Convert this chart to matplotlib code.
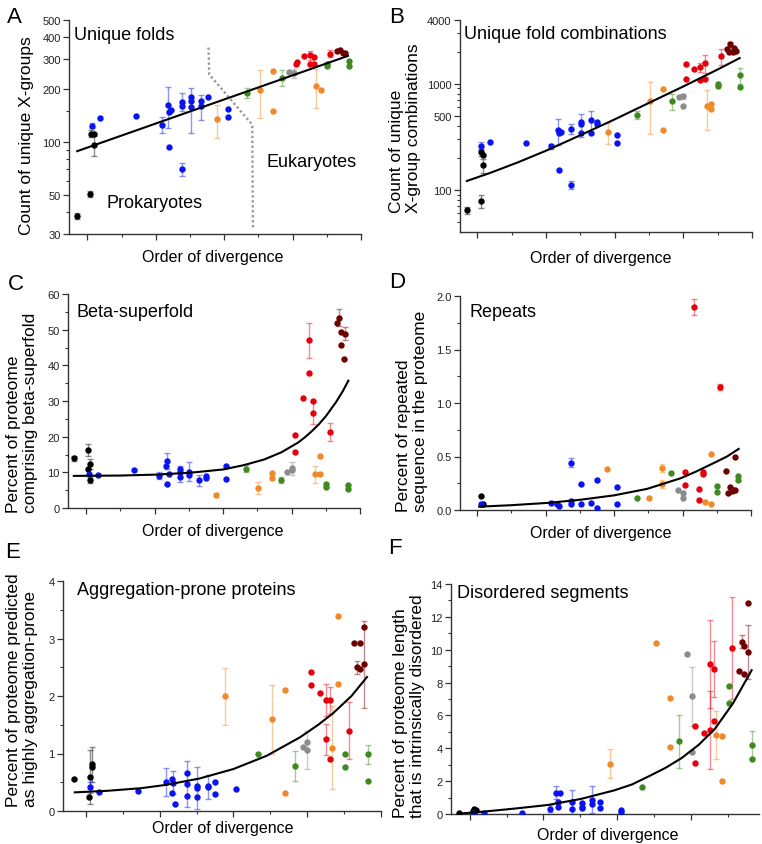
import matplotlib
matplotlib.use("Agg")
import matplotlib.pyplot as plt
from matplotlib.ticker import FixedLocator, MultipleLocator, NullFormatter, FormatStrFormatter
import numpy as np

# figure size in pixels
W, H = 762, 845

plt.rcParams["font.family"] = ["Liberation Sans", "DejaVu Sans"]

COLORS = {
    "k": "#000000",   # archaea / early
    "b": "#0a14f2",   # bacteria
    "o": "#ee8a2a",   # protists
    "g": "#3f8a1f",   # plants
    "s": "#8c8c8c",   # fungi
    "r": "#e6000e",   # invertebrates
    "m": "#6e0000",   # vertebrates
}

# ---- data: (order of divergence, value, error) ----
# A: unique folds
A_black = [(0.85, 38, 1.5), (1.04, 51, 2), (1.05, 112, 5), (1.09, 111, 0), (1.09, 96, 12)]
A_blue = [(1.06, 124, 4), (1.19, 137, 0), (1.71, 142, 0), (2.09, 126, 13), (2.18, 163, 43),
          (2.19, 148, 0), (2.22, 152, 0), (2.19, 94, 0), (2.38, 170, 20), (2.38, 161, 0),
          (2.38, 70, 6), (2.52, 181, 0), (2.52, 173, 0), (2.52, 158, 45), (2.66, 172, 0),
          (2.66, 160, 26), (2.76, 181, 0), (3.05, 155, 0), (3.05, 139, 0)]
A_orange = [(2.90, 135, 29), (3.52, 199, 61), (3.71, 256, 0), (3.72, 151, 0), (4.34, 209, 52), (4.42, 198, 0)]
A_green = [(3.34, 192, 13), (3.84, 234, 25), (4.50, 278, 0), (4.50, 272, 0), (4.82, 289, 0), (4.82, 272, 0)]
A_gray = [(3.94, 252, 0), (4.02, 247, 15)]
A_red = [(4.05, 278, 0), (4.06, 287, 0), (4.17, 311, 0), (4.25, 313, 17), (4.31, 305, 0),
         (4.25, 279, 0), (4.31, 278, 0), (4.55, 320, 15)]
A_maroon = [(4.65, 333, 0), (4.69, 338, 0), (4.74, 322, 0), (4.77, 321, 0)]
A_fit_x = [0.85, 4.81]
A_fit_y = [89, 311]
A_divider_x = [2.77, 2.78, 3.41, 3.42]
A_divider_y = [347, 244, 126, 31.7]

# B: unique fold combinations
B_black = [(0.85, 64, 5), (1.05, 79, 11), (1.06, 225, 15), (1.09, 213, 0), (1.09, 171, 26)]
B_blue = [(1.06, 259, 20), (1.19, 284, 0), (1.71, 274, 0), (2.08, 257, 15), (2.17, 363, 100),
          (2.19, 345, 0), (2.22, 350, 0), (2.19, 154, 0), (2.37, 376, 40), (2.37, 111, 10),
          (2.51, 431, 0), (2.51, 415, 100), (2.51, 340, 0), (2.66, 450, 105), (2.66, 340, 0),
          (2.75, 437, 0), (2.75, 415, 0), (3.04, 328, 0), (3.04, 274, 0)]
B_orange = [(2.90, 350, 80), (3.52, 688, 350), (3.70, 885, 0), (3.70, 368, 0), (4.34, 617, 255),
            (4.41, 640, 0), (4.41, 571, 0)]
B_green = [(3.33, 505, 45), (3.83, 684, 120), (4.50, 986, 0), (4.50, 950, 0), (4.82, 1197, 200), (4.82, 930, 0)]
B_gray = [(3.94, 745, 0), (4.00, 760, 40), (4.00, 613, 0)]
B_red = [(4.04, 1518, 0), (4.04, 1114, 0), (4.16, 1362, 0), (4.25, 1423, 150), (4.31, 1550, 300),
         (4.25, 1075, 0), (4.31, 1098, 0), (4.55, 1804, 300)]
B_maroon = [(4.64, 2113, 0), (4.68, 2355, 120), (4.74, 2160, 0), (4.73, 1967, 0), (4.67, 1980, 0), (4.76, 2037, 0)]
B_fit_x = [0.85, 1.2, 1.6, 2.0, 2.5, 3.0, 3.5, 4.0, 4.5, 4.82]
B_fit_y = [121, 145, 182, 233, 326, 460, 658, 940, 1358, 1740]

# C: beta-superfold
C_black = [(0.82, 13.9, 0.8), (1.03, 16.3, 1.7), (1.03, 10.9, 0), (1.06, 12.3, 1.4), (1.06, 7.8, 0.8)]
C_blue = [(1.04, 9.6, 0), (1.17, 9.3, 0), (1.70, 10.7, 0), (2.07, 9.1, 1.0), (2.16, 11.8, 0),
          (2.18, 13.2, 2.3), (2.18, 6.6, 0), (2.21, 9.6, 0), (2.37, 10.9, 1.0), (2.37, 10.1, 0),
          (2.37, 8.7, 1.5), (2.50, 10.2, 2.6), (2.50, 9.3, 0), (2.65, 7.8, 1.5), (2.75, 9.0, 0),
          (2.75, 8.5, 0), (3.04, 11.8, 0), (3.04, 8.2, 0)]
C_orange = [(2.89, 3.7, 0.6), (3.51, 5.7, 1.7), (3.71, 9.9, 0), (3.71, 8.4, 0), (4.34, 9.5, 2.4),
            (4.42, 14.6, 0), (4.42, 9.6, 0)]
C_green = [(3.34, 11.0, 1.0), (3.84, 7.9, 0.9), (4.51, 6.6, 0), (4.51, 6.0, 0), (4.83, 6.5, 0), (4.83, 5.3, 0)]
C_gray = [(3.94, 10.2, 0), (4.01, 10.7, 0), (4.01, 11.1, 1.9)]
C_red = [(4.05, 20.4, 0), (4.05, 15.6, 0), (4.17, 30.9, 0), (4.26, 47.0, 5.0), (4.26, 37.9, 0),
         (4.31, 30.1, 0), (4.31, 26.6, 3.0), (4.56, 21.3, 2.5)]
C_maroon = [(4.66, 51.9, 0), (4.70, 53.4, 2.3), (4.72, 49.4, 0), (4.78, 48.9, 1.8), (4.72, 45.7, 0), (4.77, 41.9, 0)]
C_fit_x = [0.82, 1.5, 2.0, 2.5, 3.0, 3.3, 3.6, 3.85, 4.1, 4.2, 4.3, 4.4, 4.5, 4.65, 4.75, 4.83]
C_fit_y = [9.0, 9.1, 9.35, 9.85, 10.8, 12.0, 13.6, 15.6, 18.4, 19.9, 21.6, 23.5, 25.7, 29.7, 32.8, 35.7]

# D: repeats
D_black = [(1.05, 0.128, 0), (1.09, 0.053, 0)]
D_blue = [(1.05, 0.059, 0), (2.08, 0.062, 0), (2.17, 0.053, 0), (2.19, 0.037, 0), (2.37, 0.443, 0.045),
          (2.37, 0.087, 0), (2.37, 0.053, 0), (2.51, 0.246, 0), (2.51, 0.056, 0), (2.66, 0.069, 0),
          (2.75, 0.278, 0), (2.75, 0.022, 0), (3.04, 0.212, 0), (3.04, 0.056, 0)]
D_orange = [(2.89, 0.381, 0), (3.51, 0.112, 0), (3.70, 0.393, 0.035), (3.70, 0.243, 0.04),
            (4.33, 0.072, 0), (4.41, 0.524, 0), (4.41, 0.059, 0)]
D_green = [(3.33, 0.109, 0), (3.83, 0.346, 0), (4.50, 0.22, 0), (4.50, 0.17, 0), (4.81, 0.315, 0), (4.81, 0.278, 0)]
D_gray = [(3.94, 0.19, 0), (4.00, 0.162, 0), (4.00, 0.112, 0)]
D_red = [(4.04, 0.353, 0), (4.04, 0.237, 0), (4.17, 1.90, 0.075), (4.24, 0.20, 0), (4.24, 0.09, 0),
         (4.30, 0.359, 0), (4.30, 0.34, 0), (4.54, 1.151, 0.03)]
D_maroon = [(4.64, 0.365, 0), (4.76, 0.496, 0), (4.67, 0.156, 0), (4.70, 0.212, 0), (4.73, 0.19, 0),
            (4.76, 0.19, 0), (4.72, 0.175, 0)]
D_fit_x = [1.03, 1.5, 2.02, 2.5, 3.0, 3.48, 3.97, 4.2, 4.45, 4.65, 4.82]
D_fit_y = [0.031, 0.045, 0.066, 0.095, 0.137, 0.197, 0.296, 0.36, 0.437, 0.50, 0.571]

# E: aggregation-prone proteins
E_black = [(0.84, 0.555, 0), (1.05, 0.584, 0.47), (1.04, 0.249, 0), (1.08, 0.81, 0.3), (1.08, 0.757, 0)]
E_blue = [(1.05, 0.41, 0.1), (1.18, 0.324, 0), (1.71, 0.353, 0), (2.08, 0.509, 0.24), (2.17, 0.561, 0),
          (2.18, 0.491, 0.2), (2.17, 0.312, 0), (2.21, 0.127, 0), (2.37, 0.659, 0), (2.37, 0.468, 0.4),
          (2.37, 0.254, 0), (2.51, 0.439, 0), (2.51, 0.399, 0.37), (2.51, 0.237, 0), (2.65, 0.439, 0),
          (2.65, 0.416, 0.21), (2.75, 0.503, 0), (2.75, 0.30, 0), (3.04, 0.376, 0)]
E_orange = [(2.89, 1.994, 0.5), (3.52, 1.595, 0.6), (3.70, 2.104, 0), (3.70, 0.306, 0), (4.33, 1.104, 0.73),
            (4.42, 3.399, 0), (4.42, 2.208, 0)]
E_green = [(3.33, 0.994, 0), (3.83, 0.786, 0.26), (4.51, 0.983, 0), (4.51, 0.763, 0), (4.82, 0.983, 0.16), (4.82, 0.526, 0)]
E_gray = [(3.94, 1.121, 0), (4.00, 1.202, 0), (4.00, 1.069, 0.33)]
E_red = [(4.05, 2.416, 0), (4.05, 2.185, 0), (4.17, 2.052, 0), (4.25, 1.936, 0.28), (4.31, 1.925, 0.24),
         (4.25, 1.249, 0.27), (4.31, 0.913, 0), (4.56, 1.399, 0.49)]
E_maroon = [(4.64, 2.93, 0), (4.71, 2.93, 0), (4.77, 3.197, 0), (4.68, 2.497, 0.12), (4.71, 2.47, 0), (4.77, 2.55, 0.76)]
E_fit_x = [0.85, 1.3, 1.75, 2.09, 2.54, 3.0, 3.45, 3.9, 4.15, 4.35, 4.6, 4.81]
E_fit_y = [0.324, 0.352, 0.397, 0.455, 0.565, 0.73, 0.96, 1.28, 1.50, 1.70, 2.0, 2.33]

# F: disordered segments
F_black = [(0.85, 0.04, 0), (1.06, 0.33, 0), (1.08, 0.25, 0), (1.04, 0.2, 0)]
F_blue = [(1.06, 0.04, 0), (1.19, 0.08, 0), (1.71, 0.08, 0), (2.09, 0.33, 0.2), (2.17, 1.30, 0.4),
          (2.22, 1.30, 0), (2.19, 0.73, 0), (2.19, 0.45, 0), (2.38, 0.71, 0.75), (2.38, 0.31, 0),
          (2.52, 0.69, 0), (2.52, 0.45, 0), (2.52, 0.35, 0), (2.66, 0.88, 0.8), (2.66, 0.63, 0),
          (2.76, 0.71, 0), (2.76, 0.37, 0), (3.05, 0.26, 0), (3.05, 0.12, 0)]
F_orange = [(2.90, 3.07, 0.9), (3.52, 10.42, 0), (3.71, 7.08, 0), (3.71, 4.05, 0), (4.34, 4.82, 1.45),
            (4.42, 4.76, 0), (4.42, 2.03, 0)]
F_green = [(3.34, 1.67, 0), (3.84, 4.42, 1.6), (4.51, 7.81, 0), (4.51, 6.76, 0), (4.82, 4.23, 0.85), (4.82, 3.34, 0)]
F_gray = [(3.94, 9.73, 0), (4.01, 7.16, 1.8), (4.01, 3.76, 0)]
F_red = [(4.05, 5.37, 0), (4.05, 3.09, 0), (4.18, 4.92, 0), (4.26, 9.14, 2.67), (4.31, 8.83, 1.7),
         (4.26, 5.11, 2.4), (4.31, 5.64, 0), (4.56, 10.09, 3.1)]
F_maroon = [(4.65, 8.69, 0), (4.69, 10.50, 0.4), (4.72, 10.22, 0), (4.72, 8.51, 0), (4.77, 9.85, 1.65), (4.77, 12.82, 0)]
F_fit_x = [0.85, 1.2, 1.61, 2.06, 2.51, 2.96, 3.2, 3.42, 3.65, 3.87, 4.1, 4.32, 4.57, 4.82]
F_fit_y = [0.02, 0.15, 0.33, 0.55, 0.92, 1.44, 1.80, 2.28, 2.80, 3.40, 4.20, 5.17, 6.75, 8.75]


def add_axes(fig, left, top, right, bottom):
    # pixel box -> figure fraction
    return fig.add_axes([left / W, 1 - bottom / H, (right - left) / W, (bottom - top) / H])


def fig_text(fig, x, y, s, **kw):
    fig.text(x / W, 1 - y / H, s, **kw)


def style_axes(ax, xlim):
    for side in ("top", "right"):
        ax.spines[side].set_visible(False)
    for side in ("left", "bottom"):
        ax.spines[side].set_linewidth(1.0)
        ax.spines[side].set_color("#333333")
    ax.set_xlim(*xlim)
    ax.xaxis.set_major_locator(FixedLocator([1, 2, 3, 4, 5]))
    ax.xaxis.set_minor_locator(FixedLocator([1.5, 2.5, 3.5, 4.5]))
    ax.xaxis.set_major_formatter(NullFormatter())
    ax.tick_params(which="major", direction="out", length=4, width=0.9, labelsize=8,
                   colors="#333333", labelcolor="#222222", pad=2)
    ax.tick_params(which="minor", direction="out", length=2.5, width=0.8, colors="#333333")


def draw_points(ax, groups):
    for key, pts in groups:
        x, y, e = np.array(pts, dtype=float).T
        has = e > 0
        if has.any():
            ax.errorbar(x[has], y[has], yerr=e[has], fmt="none", ecolor=COLORS[key], alpha=0.45,
                        elinewidth=1.0, capsize=2, capthick=1.0, zorder=2)
        ax.plot(x, y, "o", color=COLORS[key], ms=4.6, mew=0, zorder=3)


def draw_fit(ax, fx, fy):
    ax.plot(fx, fy, color="black", lw=1.5, zorder=4, solid_joinstyle="round")


def main():
    fig = plt.figure(figsize=(W / 100, H / 100), dpi=100)

    # ---- A ----
    ax = add_axes(fig, 69, 20.7, 361, 235)
    ax.set_yscale("log")
    draw_points(ax, [("k", A_black), ("b", A_blue), ("o", A_orange), ("g", A_green),
                     ("s", A_gray), ("r", A_red), ("m", A_maroon)])
    draw_fit(ax, A_fit_x, A_fit_y)
    ax.plot(A_divider_x, A_divider_y, color="#9a9a9a", lw=1.7, linestyle=(0, (1, 1.1)), zorder=1)
    style_axes(ax, (0.73, 5.0))
    ax.set_ylim(30, 500)
    ax.yaxis.set_major_locator(FixedLocator([30, 50, 100, 200, 300, 400, 500]))
    ax.yaxis.set_minor_locator(FixedLocator([40, 60, 70, 80, 90, 150]))
    ax.set_yticklabels(["30", "50", "100", "200", "300", "400", "500"])
    ax.yaxis.set_minor_formatter(NullFormatter())
    fig_text(fig, 107, 208, "Prokaryotes", fontsize=13)
    fig_text(fig, 266, 167, "Eukaryotes", fontsize=13)

    # ---- B ----
    ax = add_axes(fig, 460, 20.7, 752, 233)
    ax.set_yscale("log")
    draw_points(ax, [("k", B_black), ("b", B_blue), ("o", B_orange), ("g", B_green),
                     ("s", B_gray), ("r", B_red), ("m", B_maroon)])
    draw_fit(ax, B_fit_x, B_fit_y)
    style_axes(ax, (0.75, 5.0))
    ax.set_ylim(40, 4000)
    ax.yaxis.set_major_locator(FixedLocator([100, 500, 1000, 4000]))
    ax.yaxis.set_minor_locator(FixedLocator([50, 60, 70, 80, 90, 200, 300, 400, 600, 700,
                                             800, 900, 2000, 3000]))
    ax.set_yticklabels(["100", "500", "1000", "4000"])
    ax.yaxis.set_minor_formatter(NullFormatter())

    # ---- C ----
    ax = add_axes(fig, 68, 295, 360, 509)
    draw_points(ax, [("k", C_black), ("b", C_blue), ("o", C_orange), ("g", C_green),
                     ("s", C_gray), ("r", C_red), ("m", C_maroon)])
    draw_fit(ax, C_fit_x, C_fit_y)
    style_axes(ax, (0.735, 5.0))
    ax.set_ylim(0, 60)
    ax.yaxis.set_major_locator(MultipleLocator(10))
    ax.yaxis.set_minor_locator(MultipleLocator(5))

    # ---- D ----
    ax = add_axes(fig, 460, 297, 751, 511)
    draw_points(ax, [("k", D_black), ("b", D_blue), ("o", D_orange), ("g", D_green),
                     ("s", D_gray), ("r", D_red), ("m", D_maroon)])
    draw_fit(ax, D_fit_x, D_fit_y)
    style_axes(ax, (0.75, 5.0))
    ax.set_ylim(0, 2.0)
    ax.yaxis.set_major_locator(MultipleLocator(0.5))
    ax.yaxis.set_minor_locator(MultipleLocator(0.25))
    ax.yaxis.set_major_formatter(FormatStrFormatter("%.1f"))

    # ---- E ----
    ax = add_axes(fig, 63, 582, 381, 812)
    draw_points(ax, [("k", E_black), ("b", E_blue), ("o", E_orange), ("g", E_green),
                     ("s", E_gray), ("r", E_red), ("m", E_maroon)])
    draw_fit(ax, E_fit_x, E_fit_y)
    style_axes(ax, (0.69, 5.0))
    ax.set_ylim(0, 4)
    ax.yaxis.set_major_locator(MultipleLocator(1))
    ax.yaxis.set_minor_locator(MultipleLocator(0.5))

    # ---- F ----
    ax = add_axes(fig, 451, 585, 759, 815)
    draw_points(ax, [("k", F_black), ("b", F_blue), ("o", F_orange), ("g", F_green),
                     ("s", F_gray), ("r", F_red), ("m", F_maroon)])
    draw_fit(ax, F_fit_x, F_fit_y)
    style_axes(ax, (0.747, 4.92))
    ax.set_ylim(0, 14)
    ax.yaxis.set_major_locator(MultipleLocator(2))
    ax.yaxis.set_minor_locator(MultipleLocator(1))

    # ---- panel letters ----
    for letter, x, y in [("A", 7, 23), ("B", 389, 23), ("C", 8, 290), ("D", 389, 288),
                         ("E", 5, 558), ("F", 388, 554)]:
        fig_text(fig, x, y, letter, fontsize=16, va="baseline", ha="left")

    # ---- panel titles ----
    for title, x, y in [("Unique folds", 74, 40), ("Unique fold combinations", 464, 39),
                        ("Beta-superfold", 77, 317), ("Repeats", 469, 317),
                        ("Aggregation-prone proteins", 77, 595), ("Disordered segments", 457, 598)]:
        fig_text(fig, x, y, title, fontsize=13, va="baseline", ha="left")

    # ---- x labels ----
    for x, y in [(213, 262), (601, 263), (213, 536), (601, 538), (223, 833), (608, 840)]:
        fig_text(fig, x, y, "Order of divergence", fontsize=11.5, va="baseline", ha="center")

    # ---- y labels ----
    for label, x, y in [("Count of unique X-groups", 27, 235),
                        ("Count of unique\nX-group combinations", 405, 213),
                        ("Percent of proteome\ncomprising beta-superfold", 22, 513),
                        ("Percent of repeated\nsequence in the proteome", 412, 512),
                        ("Percent of proteome predicted\nas highly aggregation-prone", 22, 807),
                        ("Percent of proteome length\nthat is intrinsically disordered", 409, 818)]:
        fig_text(fig, x, y, label, fontsize=12.5, rotation=90, ha="center", va="bottom",
                 multialignment="left", linespacing=1.1)

    fig.savefig("out.png", dpi=100, facecolor="white")


if __name__ == "__main__":
    main()
